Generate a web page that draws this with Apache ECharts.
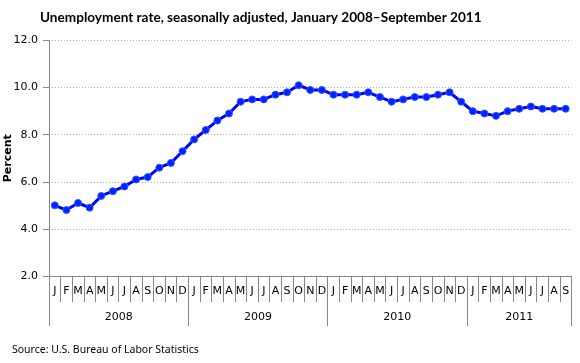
<!DOCTYPE html>
<html><head><meta charset="utf-8">
<script src="https://cdn.jsdelivr.net/npm/echarts@6/dist/echarts.min.js"></script>
<style>html,body{margin:0;padding:0;background:#fff}#c{width:580px;height:363px}</style>
</head><body><div id="c"></div>
<script>
const monthLabels = ['J','F','M','A','M','J','J','A','S','O','N','D'];
const years = ['2008','2009','2010','2011'];
const monthsPerYear = [12,12,12,9];
const rate2008 = [5.0,4.8,5.1,4.9,5.4,5.6,5.8,6.1,6.2,6.6,6.8,7.3];
const rate2009 = [7.8,8.2,8.6,8.9,9.4,9.5,9.5,9.7,9.8,10.1,9.9,9.9];
const rate2010 = [9.7,9.7,9.7,9.8,9.6,9.4,9.5,9.6,9.6,9.7,9.8,9.4];
const rate2011 = [9.0,8.9,8.8,9.0,9.1,9.2,9.1,9.1,9.1];
const yTicks = [2,4,6,8,10,12];

const categories = [];
years.forEach((y,i)=>{ for(let m=0;m<monthsPerYear[i];m++) categories.push(monthLabels[m]); });
const values = [].concat(rate2008, rate2009, rate2010, rate2011);
const n = categories.length;
const yearBounds = [0]; monthsPerYear.forEach(c=>yearBounds.push(yearBounds[yearBounds.length-1]+c));
const yearCenters = years.map((y,i)=>(yearBounds[i]+yearBounds[i+1])/2);

const axisGray = '#868686';
const chart = echarts.init(document.getElementById('c'), null, {renderer:'canvas'});
chart.setOption({
  animation:false,
  title:[
    {text:'Unemployment rate, seasonally adjusted, January 2008\u2013September 2011', left:40, top:11, padding:0,
     textStyle:{fontFamily:'Lato', fontWeight:'bold', fontSize:13.6, color:'#000'}},
    {text:'Source: U.S. Bureau of Labor Statistics', left:12, top:345, padding:0,
     textStyle:{fontFamily:'Noto Sans', fontWeight:'normal', fontSize:10.5, color:'#000'}}
  ],
  grid:{left:49, right:8.5, top:40.5, bottom:87, outerBoundsMode:'none', containLabel:false},
  xAxis:[
    {type:'category', data:categories, position:'bottom',
     axisLine:{lineStyle:{color:axisGray, width:1}},
     axisTick:{show:true, interval:0, length:26, lineStyle:{color:axisGray}},
     axisLabel:{interval:0, hideOverlap:false, margin:10, fontFamily:'DejaVu Sans', fontSize:11, color:'#000'},
     splitLine:{show:false}},
    {type:'value', min:0, max:n, position:'bottom',
     axisLine:{show:false},
     axisTick:{show:true, customValues:yearBounds, length:50, lineStyle:{color:axisGray}},
     axisLabel:{customValues:yearCenters, margin:36, fontFamily:'DejaVu Sans', fontSize:11, color:'#000',
       formatter:(v)=>{const i=yearCenters.indexOf(v); return i>=0?years[i]:'';}},
     splitLine:{show:false}}
  ],
  yAxis:{type:'value', min:yTicks[0], max:yTicks[yTicks.length-1], interval:2,
    name:'Percent', nameLocation:'middle', nameRotate:90, nameGap:35, nameMoveOverlap:false,
    nameTextStyle:{fontFamily:'DejaVu Sans', fontWeight:'bold', fontSize:11, color:'#000'},
    axisLine:{show:true, lineStyle:{color:axisGray}},
    axisTick:{show:true, length:6, lineStyle:{color:axisGray}},
    axisLabel:{margin:11, fontFamily:'DejaVu Sans', fontSize:11, color:'#000', formatter:v=>v.toFixed(1)},
    splitLine:{show:true, lineStyle:{color:'#aaaaaa', type:[1,2], width:1}}},
  series:[{type:'line', xAxisIndex:0, data:values, symbol:'circle', symbolSize:7,
    lineStyle:{color:'#0000ff', width:3}, itemStyle:{color:'#0022ff', borderColor:'#3355ff', borderWidth:1}}]
});
</script></body></html>
